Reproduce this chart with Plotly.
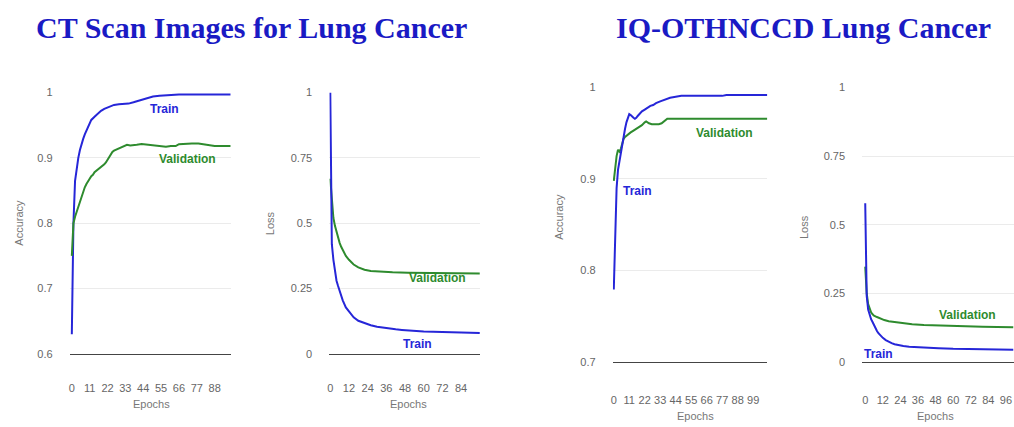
import plotly.graph_objects as go

W, H = 1014, 427

# ---- CT Scan Images: accuracy ----
ct_acc_train_ep = [0, 1, 2, 3, 4, 5, 6, 7, 8, 10, 12, 14, 16, 18, 20, 23, 26, 29, 32, 35, 38, 41, 44, 47, 50, 54, 58, 62, 66, 72, 78, 84, 90, 98]
ct_acc_train = [0.63, 0.80, 0.865, 0.885, 0.90, 0.912, 0.922, 0.929, 0.936, 0.948, 0.958, 0.963, 0.968, 0.972, 0.975, 0.978, 0.981, 0.982, 0.982, 0.983, 0.985, 0.987, 0.989, 0.992, 0.994, 0.995, 0.996, 0.996, 0.997, 0.997, 0.997, 0.997, 0.997, 0.997]
ct_acc_val_ep = [0, 1, 2, 3, 4, 5, 6, 7, 8, 9, 10, 11, 12, 13, 14, 15, 16, 17, 18, 19, 20, 21, 22, 23, 24, 25, 26, 27, 28, 29, 30, 32, 34, 36, 38, 40, 43, 46, 49, 52, 55, 58, 61, 64, 66, 70, 74, 78, 81, 84, 88, 92, 98]
ct_acc_val = [0.75, 0.80, 0.81, 0.818, 0.825, 0.832, 0.84, 0.848, 0.855, 0.86, 0.865, 0.868, 0.872, 0.874, 0.878, 0.88, 0.881, 0.883, 0.885, 0.888, 0.89, 0.893, 0.897, 0.902, 0.905, 0.909, 0.911, 0.912, 0.913, 0.915, 0.916, 0.918, 0.92, 0.919, 0.92, 0.92, 0.921, 0.92, 0.919, 0.918, 0.917, 0.917, 0.918, 0.918, 0.921, 0.922, 0.922, 0.922, 0.921, 0.919, 0.918, 0.918, 0.918]

# ---- CT Scan Images: loss ----
ct_loss_train_ep = [0, 1, 2, 3, 4, 5, 6, 7, 8, 10, 12, 15, 18, 22, 26, 30, 34, 38, 42, 46, 50, 55, 60, 66, 72, 78, 84, 90, 96]
ct_loss_train = [1.0, 0.42, 0.36, 0.31, 0.28, 0.26, 0.24, 0.22, 0.205, 0.178, 0.162, 0.14, 0.127, 0.117, 0.11, 0.104, 0.10, 0.097, 0.094, 0.092, 0.09, 0.088, 0.086, 0.085, 0.084, 0.083, 0.082, 0.081, 0.08]
ct_loss_val_ep = [0, 1, 2, 3, 4, 5, 6, 7, 8, 10, 12, 15, 18, 22, 26, 30, 40, 50, 60, 70, 80, 90, 96]
ct_loss_val = [0.67, 0.58, 0.52, 0.49, 0.465, 0.445, 0.425, 0.41, 0.397, 0.375, 0.36, 0.342, 0.331, 0.322, 0.317, 0.315, 0.312, 0.311, 0.31, 0.31, 0.309, 0.309, 0.308]

# ---- IQ-OTHNCCD: accuracy ----
iq_acc_train_ep = [0, 1, 2, 3, 4, 5, 6, 7, 8, 9, 10, 11, 12, 13, 14, 15, 16, 17, 18, 19, 20, 22, 24, 26, 28, 30, 33, 36, 40, 44, 48, 55, 62, 70, 77, 80, 90, 100, 109]
iq_acc_train = [0.779, 0.85, 0.89, 0.91, 0.92, 0.93, 0.94, 0.948, 0.955, 0.962, 0.968, 0.971, 0.97, 0.968, 0.967, 0.966, 0.967, 0.969, 0.971, 0.973, 0.974, 0.976, 0.978, 0.98, 0.981, 0.983, 0.985, 0.987, 0.989, 0.99, 0.991, 0.991, 0.991, 0.991, 0.991, 0.992, 0.992, 0.992, 0.992]
iq_acc_val_ep = [0, 1, 2, 3, 4, 5, 6, 7, 8, 10, 12, 14, 16, 18, 20, 22, 23, 25, 27, 30, 32, 34, 36, 38, 42, 50, 60, 70, 80, 90, 100, 109]
iq_acc_val = [0.898, 0.912, 0.925, 0.932, 0.93, 0.933, 0.938, 0.944, 0.946, 0.949, 0.951, 0.953, 0.955, 0.957, 0.959, 0.962, 0.963, 0.961, 0.96, 0.96, 0.96, 0.961, 0.964, 0.966, 0.966, 0.966, 0.966, 0.966, 0.966, 0.966, 0.966, 0.966]

# ---- IQ-OTHNCCD: loss ----
iq_loss_train_ep = [0, 1, 2, 3, 4, 5, 6, 7, 8, 9, 10, 12, 14, 16, 18, 20, 23, 26, 30, 35, 40, 50, 60, 70, 80, 90, 101]
iq_loss_train = [0.578, 0.24, 0.19, 0.17, 0.155, 0.145, 0.132, 0.122, 0.112, 0.104, 0.097, 0.087, 0.079, 0.072, 0.068, 0.064, 0.06, 0.057, 0.055, 0.053, 0.051, 0.049, 0.047, 0.046, 0.045, 0.045, 0.044]
iq_loss_val_ep = [0, 1, 2, 3, 4, 5, 6, 8, 10, 13, 16, 20, 26, 32, 40, 50, 60, 70, 80, 90, 101]
iq_loss_val = [0.347, 0.25, 0.21, 0.19, 0.18, 0.173, 0.168, 0.163, 0.158, 0.152, 0.148, 0.145, 0.14, 0.137, 0.134, 0.132, 0.13, 0.129, 0.128, 0.127, 0.126]

# tick labels
ct_acc_xticks = [0, 11, 22, 33, 44, 55, 66, 77, 88]
iq_acc_xticks = [0, 11, 22, 33, 44, 55, 66, 77, 88, 99]
loss_xticks_ct = [0, 12, 24, 36, 48, 60, 72, 84]
loss_xticks_iq = [0, 12, 24, 36, 48, 60, 72, 84, 96]
ct_acc_yticks = [0.6, 0.7, 0.8, 0.9, 1.0]
ct_acc_ylabels = ["0.6", "0.7", "0.8", "0.9", "1"]
iq_acc_yticks = [0.7, 0.8, 0.9, 1.0]
iq_acc_ylabels = ["0.7", "0.8", "0.9", "1"]
loss_yticks = [0, 0.25, 0.5, 0.75, 1.0]
loss_ylabels = ["0", "0.25", "0.5", "0.75", "1"]

titles = ["CT Scan Images for Lung Cancer", "IQ-OTHNCCD Lung Cancer"]

BLUE = "#2626d8"
GREEN = "#2e8b2e"
TITLE_BLUE = "#1a1ac4"
TICK_GRAY = "#666666"
GRID = "#ebebeb"


def px_x(p):
    return p / W


def px_y(p):
    return 1 - p / H


# panel geometry in pixels: (left, right, top, bottom) plus tick spacing
panels = [
    dict(x0=68, x1=229, top=89, bot=358, xr=[-1.2, 97.8], yr=[0.6, 1.0],
         xt=ct_acc_xticks, yt=ct_acc_yticks, yl=ct_acc_ylabels, xlen=24),
    dict(x0=328, x1=479, top=89, bot=358, xr=[-0.6, 96.2], yr=[0, 1.0],
         xt=loss_xticks_ct, yt=loss_yticks, yl=loss_ylabels, xlen=24),
    dict(x0=612, x1=767, top=84, bot=366, xr=[-0.7, 109.2], yr=[0.7, 1.0],
         xt=iq_acc_xticks, yt=iq_acc_yticks, yl=iq_acc_ylabels, xlen=28),
    dict(x0=862, x1=1014, top=84, bot=366, xr=[-2, 101.5], yr=[0, 1.0],
         xt=loss_xticks_iq, yt=loss_yticks, yl=loss_ylabels, xlen=28),
]

series = [
    [(ct_acc_train_ep, ct_acc_train, BLUE), (ct_acc_val_ep, ct_acc_val, GREEN)],
    [(ct_loss_val_ep, ct_loss_val, GREEN), (ct_loss_train_ep, ct_loss_train, BLUE)],
    [(iq_acc_val_ep, iq_acc_val, GREEN), (iq_acc_train_ep, iq_acc_train, BLUE)],
    [(iq_loss_val_ep, iq_loss_val, GREEN), (iq_loss_train_ep, iq_loss_train, BLUE)],
]

# inline curve labels: (panel, text, epoch, value, colour)
curve_labels = [
    (0, "Train", 57, 0.975, BLUE),
    (0, "Validation", 71, 0.899, GREEN),
    (1, "Validation", 69, 0.29, GREEN),
    (1, "Train", 56, 0.037, BLUE),
    (2, "Validation", 79, 0.95, GREEN),
    (2, "Train", 17, 0.887, BLUE),
    (3, "Validation", 70, 0.17, GREEN),
    (3, "Train", 9, 0.027, BLUE),
]

# axis titles: (text, x px, y px, rotated)
axis_titles = [
    ("Accuracy", 17, 223, True), ("Epochs", 150, 410, False),
    ("Loss", 268, 223, True), ("Epochs", 407, 410, False),
    ("Accuracy", 558, 217, True), ("Epochs", 695, 422, False),
    ("Loss", 803, 227, True), ("Epochs", 935, 422, False),
]

fig = go.Figure()
layout = dict(
    width=W, height=H, margin=dict(l=0, r=0, t=0, b=0),
    paper_bgcolor="white", plot_bgcolor="white", showlegend=False,
    font=dict(family="Arial, Liberation Sans, sans-serif", color=TICK_GRAY, size=11),
)
annotations = []

for i, (p, ser) in enumerate(zip(panels, series)):
    n = "" if i == 0 else str(i + 1)
    xa, ya = "x" + n, "y" + n
    for ep, vals, col in ser:
        fig.add_trace(go.Scatter(x=ep, y=vals, mode="lines", xaxis=xa, yaxis=ya,
                                 line=dict(color=col, width=2), hoverinfo="skip",
                                 cliponaxis=True))
    layout["xaxis" + n] = dict(
        domain=[px_x(p["x0"]), px_x(p["x1"])], range=p["xr"], anchor=ya,
        tickvals=p["xt"], showgrid=False, zeroline=False,
        showline=True, linecolor="#444444", linewidth=1,
        ticks="outside", ticklen=p["xlen"], tickcolor="rgba(0,0,0,0)",
        tickfont=dict(size=11, color=TICK_GRAY), fixedrange=True,
    )
    layout["yaxis" + n] = dict(
        domain=[px_y(p["bot"]), px_y(p["top"])], range=p["yr"], anchor=xa,
        tickvals=p["yt"], ticktext=p["yl"], showgrid=True, gridcolor=GRID,
        gridwidth=1, zeroline=False, showline=False,
        ticks="outside", ticklen=14, tickcolor="rgba(0,0,0,0)",
        tickfont=dict(size=11, color=TICK_GRAY), fixedrange=True,
    )

for pi, text, ep, val, col in curve_labels:
    n = "" if pi == 0 else str(pi + 1)
    annotations.append(dict(
        x=ep, y=val, xref="x" + n, yref="y" + n, text="<b>%s</b>" % text,
        showarrow=False, xanchor="center", yanchor="middle",
        font=dict(size=12, color=col, family="Arial, Liberation Sans, sans-serif"),
    ))

for text, xp, yp, rot in axis_titles:
    annotations.append(dict(
        x=px_x(xp), y=px_y(yp), xref="paper", yref="paper", text=text,
        showarrow=False, textangle=-90 if rot else 0,
        xanchor="center", yanchor="middle",
        font=dict(size=11, color="#777777"),
    ))

for text, xc in zip(titles, [250, 803]):
    annotations.append(dict(
        x=px_x(xc), y=px_y(22), xref="paper", yref="paper",
        text="<b>%s</b>" % text, showarrow=False,
        xanchor="center", yanchor="middle",
        font=dict(size=30, color=TITLE_BLUE,
                  family="Liberation Serif, Times New Roman, serif"),
    ))

layout["annotations"] = annotations
fig.update_layout(**layout)
fig.write_html("out.html")
